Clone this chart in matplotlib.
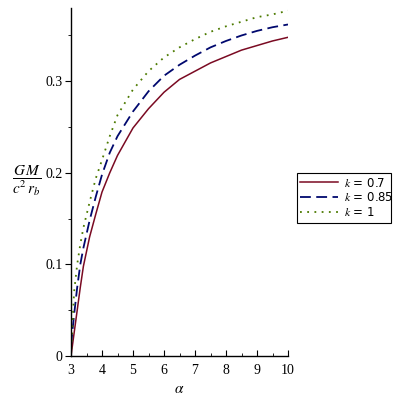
import matplotlib
matplotlib.use("Agg")
import matplotlib.pyplot as plt
from matplotlib.ticker import MultipleLocator, FixedLocator

plt.rcParams["mathtext.fontset"] = "stix"
plt.rcParams["font.family"] = ["Liberation Serif", "DejaVu Serif"]

# values
alpha = [3.0, 3.1, 3.2, 3.3, 3.4, 3.6, 3.8, 4.0, 4.25, 4.5, 5.0, 5.5,
         6.0, 6.5, 7.0, 7.5, 8.0, 8.5, 9.0, 9.5, 10.0]
gm_k07 = [0.0, 0.025, 0.05, 0.075, 0.098, 0.13, 0.155, 0.179, 0.2, 0.219,
          0.249, 0.27, 0.288, 0.302, 0.311, 0.32, 0.327, 0.334, 0.339,
          0.344, 0.348]
gm_k085 = [0.012, 0.045, 0.075, 0.1, 0.118, 0.148, 0.174, 0.198, 0.222,
           0.24, 0.267, 0.289, 0.306, 0.318, 0.328, 0.337, 0.344, 0.35,
           0.355, 0.359, 0.362]
gm_k1 = [0.0, 0.07, 0.1, 0.122, 0.14, 0.168, 0.194, 0.214, 0.24, 0.263,
         0.291, 0.311, 0.326, 0.337, 0.346, 0.354, 0.36, 0.365, 0.37,
         0.373, 0.377]
labels = ["0.7", "0.85", "1"]

fig = plt.figure(figsize=(4, 4), dpi=100)
ax = fig.add_axes([0.1775, 0.11, 0.5425, 0.87])

ax.plot(alpha, gm_k07, color="#7a0a22", linewidth=1.1,
        label=r"$k$ = " + labels[0])
ax.plot(alpha, gm_k085, color="#00086e", linewidth=1.3,
        linestyle=(0, (6, 3)), label=r"$k$ = " + labels[1])
ax.plot(alpha, gm_k1, color="#4c7a00", linewidth=1.3,
        linestyle=(0, (1, 3)), label=r"$k$ = " + labels[2])

ax.set_xlim(3, 10)
ax.set_ylim(0, 0.38)
ax.spines["top"].set_visible(False)
ax.spines["right"].set_visible(False)
ax.spines["left"].set_linewidth(1.0)
ax.spines["bottom"].set_linewidth(1.0)

ax.xaxis.set_major_locator(MultipleLocator(1))
ax.xaxis.set_minor_locator(MultipleLocator(0.5))
ax.yaxis.set_major_locator(FixedLocator([0, 0.1, 0.2, 0.3]))
ax.yaxis.set_minor_locator(FixedLocator([0.05, 0.15, 0.25, 0.35]))
ax.set_yticklabels(["0", "0.1", "0.2", "0.3"])

ax.tick_params(axis="x", which="major", direction="in", length=4, pad=6,
               labelsize=10)
ax.tick_params(axis="x", which="minor", direction="in", length=2.5)
ax.tick_params(axis="y", which="major", direction="out", length=4, pad=2,
               labelsize=10)
ax.tick_params(axis="y", which="minor", direction="out", length=2.5)

ax.set_xlabel(r"$\alpha$", fontsize=11, labelpad=4)
fig.text(0.066, 0.548, r"$\dfrac{G\,M}{c^2\,r_b}$", fontsize=11,
         ha="center", va="center")

leg = ax.legend(loc="upper left", bbox_to_anchor=(0.742, 0.4325, 0.235, 0.135),
                bbox_transform=fig.transFigure, mode="expand",
                fancybox=False, framealpha=1, edgecolor="black",
                prop={"family": "DejaVu Sans", "size": 8.5},
                handlelength=3.2, borderpad=0.3,
                labelspacing=0.15, handletextpad=0.5, borderaxespad=0)
leg.get_frame().set_linewidth(0.8)

fig.savefig("out.png", dpi=100)
